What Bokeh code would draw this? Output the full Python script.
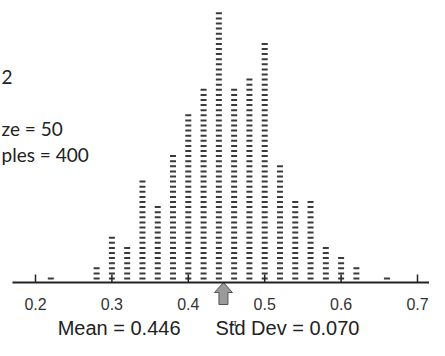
from bokeh.plotting import figure
from bokeh.models import Range1d, ColumnDataSource
from bokeh.embed import file_html
from bokeh.resources import INLINE
from bokeh.core.properties import value

# ---- data ----
proportions = [0.22, 0.28, 0.30, 0.32, 0.34, 0.36, 0.38, 0.40, 0.42, 0.44,
               0.46, 0.48, 0.50, 0.52, 0.54, 0.56, 0.58, 0.60, 0.62, 0.66]
counts = [1, 3, 9, 7, 20, 15, 25, 33, 38, 53,
          38, 40, 47, 23, 16, 16, 7, 5, 3, 1]
tick_values = [0.2, 0.3, 0.4, 0.5, 0.6, 0.7]
tick_labels = ["0.2", "0.3", "0.4", "0.5", "0.6", "0.7"]
mean_value = 0.446
std_dev = 0.070
info_lines = ["2", "ze = 50", "ples = 400"]

# ---- layout ----
W, H = 429, 340
PX = 764.0                 # pixels per unit of proportion
X0 = 0.2 - 35 / PX         # data x at left edge of figure
AXIS_Y = 282               # pixel row of the axis line
DOT_PITCH = 5.1
DOT_BASE = 4.0


def fx(px):
    return X0 + px / PX


def fy(py):
    return AXIS_Y - py


p = figure(width=W, height=H, x_range=Range1d(X0, X0 + W / PX),
           y_range=Range1d(AXIS_Y - H, AXIS_Y), output_backend="svg",
           toolbar_location=None, min_border=0, x_axis_type=None,
           y_axis_type=None)
p.outline_line_color = None
p.xgrid.visible = False
p.ygrid.visible = False
p.background_fill_color = "white"

# dots
xs, ys = [], []
for prop, c in zip(proportions, counts):
    for k in range(c):
        xs.append(prop)
        ys.append(DOT_BASE + k * DOT_PITCH)
src = ColumnDataSource(dict(x=xs, y=ys))
p.rect("x", "y", width=6, height=2, width_units="screen", height_units="screen",
       source=src, fill_color="#3a3a3a", line_color=None)

# arrow at the mean
half_head, half_shaft = 9 / PX, 4.5 / PX
ax = [mean_value, mean_value + half_head, mean_value + half_shaft,
      mean_value + half_shaft, mean_value - half_shaft, mean_value - half_shaft,
      mean_value - half_head]
ay = [0, -10, -10, -22, -22, -10, -10]
p.patch(ax, ay, fill_color="#9a9a9a", line_color="#555555", line_width=1)
p.text(x=[mean_value], y=[fy(322)], text=["π"], x_offset=10,
       text_font=value("DejaVu Serif"), text_font_size="10px",
       text_color="#333333", text_align="center", text_baseline="middle")

# axis line, ticks and tick labels
p.segment(x0=[fx(12)], y0=[0], x1=[X0 + W / PX], y1=[0],
          line_color="#222222", line_width=2)
p.segment(x0=tick_values, y0=[0] * len(tick_values), x1=tick_values,
          y1=[8] * len(tick_values), line_color="#222222", line_width=1.5)
p.text(x=tick_values, y=[fy(297)] * len(tick_values), text=tick_labels,
       text_font=value("Liberation Sans"), text_font_size="16px",
       text_color="#333333", text_align="center", text_baseline="top")

# bottom summary text
p.text(x=[fx(180)], y=[fy(327)], text=[f"Mean = {mean_value:.3f}"],
       text_font=value("Liberation Sans"), text_font_size="20px",
       text_color="#222222", text_align="right", text_baseline="middle")
p.text(x=[fx(215)], y=[fy(327)], text=[f"Std Dev = {std_dev:.3f}"],
       text_font=value("Liberation Sans"), text_font_size="20px",
       text_color="#222222", text_align="left", text_baseline="middle")

# left info text (cut off at the left edge in the original)
p.text(x=[fx(1)] * 3, y=[fy(76), fy(128), fy(154)], text=info_lines,
       text_font=value("Lato"), text_font_size="19px", text_color="#222222",
       text_align="left", text_baseline="middle")

open("out.html", "w").write(file_html(p, INLINE))
